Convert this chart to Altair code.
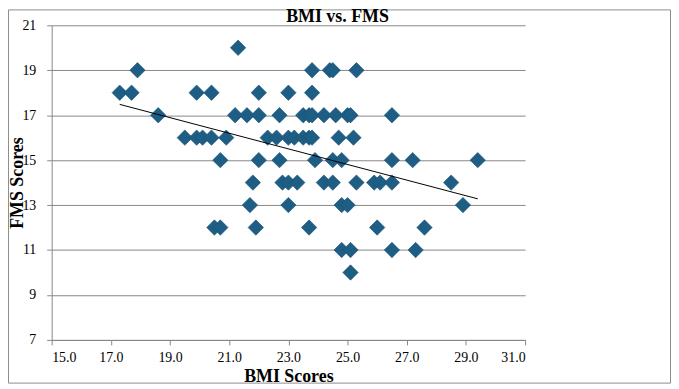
import altair as alt
import pandas as pd

# FMS score rows and the BMI values read for each row
bmi = [
    21.3,
    17.9, 23.8, 24.4, 24.5, 25.3,
    17.3, 17.7, 19.9, 20.4, 22.0, 23.0, 23.8,
    18.6, 21.2, 21.6, 22.0, 22.7, 23.5, 23.7, 23.8, 24.2, 24.6, 25.0, 25.1, 26.5,
    19.5, 19.9, 20.1, 20.4, 20.9, 22.3, 22.6, 23.0, 23.2, 23.5, 23.7, 23.8, 24.7, 25.2,
    20.7, 22.0, 22.7, 23.9, 24.5, 24.8, 26.5, 27.2, 29.4,
    21.8, 22.8, 23.0, 23.3, 24.2, 24.5, 25.3, 25.9, 26.1, 26.5, 28.5,
    21.7, 23.0, 24.8, 25.0, 28.9,
    20.5, 20.7, 21.9, 23.7, 26.0, 27.6,
    24.8, 25.1, 26.5, 27.3,
    25.1,
]
fms = (
    [20] * 1 + [19] * 5 + [18] * 7 + [17] * 13 + [16] * 14 + [15] * 9
    + [14] * 11 + [13] * 5 + [12] * 6 + [11] * 4 + [10] * 1
)

x_ticks = [15, 17, 19, 21, 23, 25, 27, 29, 31]
y_ticks = [7, 9, 11, 13, 15, 17, 19, 21]
chart_title = "BMI vs. FMS"

df = pd.DataFrame({"bmi": bmi, "fms": fms})

W, H = 477, 317
FONT = "Liberation Serif"
GRAY = "#878787"

base = alt.Chart(df)

x_enc = alt.X(
    "bmi:Q",
    scale=alt.Scale(domain=[15, 31], nice=False, zero=False),
    axis=alt.Axis(
        values=x_ticks, format=".1f", grid=False, title="BMI Scores",
        titleX=W / 2, titleY=42, titleBaseline="alphabetic", titleAlign="center",
        labelPadding=6,
    ),
)
y_enc = alt.Y(
    "fms:Q",
    scale=alt.Scale(domain=[7, 21], nice=False, zero=False),
    axis=alt.Axis(
        values=y_ticks, grid=True, title="FMS Scores",
        titleX=-29, titleY=H / 2, titleAngle=-90, titleBaseline="alphabetic",
        titleAlign="center", labelPadding=11,
    ),
)

points = base.mark_point(
    shape="diamond", filled=True, size=240, color="#1F5E84",
    stroke="#174F72", strokeWidth=0.6, opacity=1,
).encode(x=x_enc, y=y_enc)

trend = base.transform_regression("bmi", "fms").mark_line(
    color="black", strokeWidth=1
).encode(x="bmi:Q", y="fms:Q")

border = alt.Chart(alt.Data(values=[{"a": 1}])).mark_rect(
    fill="white", fillOpacity=0, stroke="#8c8c8c", strokeWidth=1
).encode(
    x=alt.value(-43.5), x2=alt.value(623.5), y=alt.value(-15.5), y2=alt.value(360.5)
)

title = alt.Chart(alt.Data(values=[{"t": chart_title}])).mark_text(
    font=FONT, fontSize=18, fontWeight="bold", color="black",
    align="center", baseline="alphabetic",
).encode(x=alt.value(288), y=alt.value(-3), text="t:N")

chart = alt.layer(border, points, trend, title).properties(
    width=W, height=H,
    background="white",
    autosize=alt.AutoSizeParams(type="none"),
    padding={"left": 44, "top": 16, "right": 147, "bottom": 45},
).configure_view(stroke=None).configure_axis(
    labelFont=FONT, labelFontSize=14, labelColor="black",
    titleFont=FONT, titleFontSize=18, titleFontWeight="bold", titleColor="black",
    domainColor=GRAY, tickColor=GRAY, gridColor=GRAY, gridOpacity=1,
    tickSize=5, domainWidth=1, tickWidth=1, gridWidth=1,
)

chart.save("out.html", embed_options={"renderer": "svg", "actions": False})
